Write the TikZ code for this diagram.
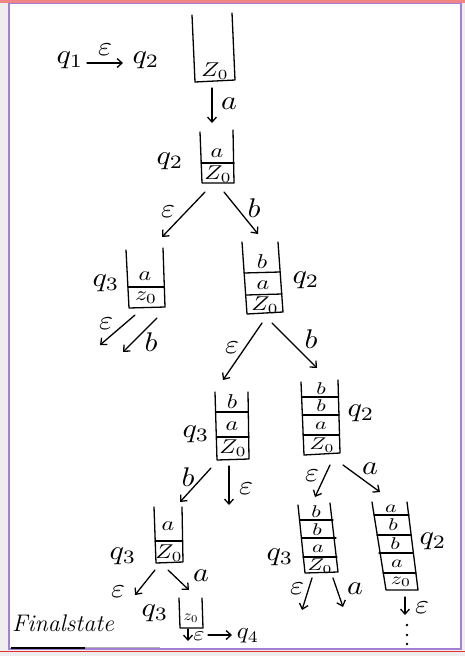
\documentclass[tikz,border=0pt]{standalone}
\usetikzlibrary{arrows.meta}
\definecolor{pagegray}{HTML}{EEEEEE}
\definecolor{framepurple}{HTML}{A57FD6}
\definecolor{topband}{HTML}{F08585}
\definecolor{bottomred}{HTML}{E03030}
\newcommand{\hwl}[1]{\scalebox{3.0}[2.7]{$#1$}}
\newcommand{\hwc}[1]{\scalebox{2.4}[2.0]{$#1$}}
\newcommand{\hwd}[1]{\scalebox{2.2}[1.7]{$#1$}}
\newcommand{\hwm}[1]{\scalebox{2.5}[2.3]{$#1$}}
\newcommand{\hws}[1]{\scalebox{1.6}[1.5]{$#1$}}
\tikzset{
  wall/.style={line width=1.3pt, line cap=round, line join=round},
  arr/.style={wall, -{Straight Barb[length=5pt,width=9pt]}},
  lab/.style={inner sep=0pt},
  cell/.style={inner sep=0pt},
  small/.style={inner sep=0pt},
  dotmark/.style={fill=black, circle, inner sep=0pt, minimum size=2.6pt}
}
\begin{document}
\begin{tikzpicture}[x=1pt,y=-1pt]
\useasboundingbox (0,0) rectangle (465,656);
% page frame
\fill[pagegray] (0,0) rectangle (465,656);
\fill[white] (9,3) rectangle (461,649);
\draw[framepurple, line width=1.5pt] (9,3) rectangle (461,649);
\fill[topband] (0,0) rectangle (465,3);
\draw[bottomred, line width=1.4pt] (0,651.5) -- (465,651.5);
\draw[line width=2pt] (11,647.5) -- (85,647.5);
\draw[gray!60, line width=1pt] (85,647.5) -- (160,647.5);

% ---- top line: q1 -eps-> q2
\node[lab] (q1) at (70,60) {\hwl{q_1}};
\node[lab] (q2a) at (146,60) {\hwl{q_2}};
\node[lab] (e0) at (105,50) {\hwl{\varepsilon}};
\coordinate (q1r) at (87,63);
\coordinate (q2l) at (123,63);
\draw[arr] (q1r) -- (q2l);

% ---- stack 1
\draw[wall] (192,15) -- (195,82) -- (235,80) -- (232,13);
\node[cell] (s1z) at (215,71) {\hwc{Z_0}};
\coordinate (s1o) at (212,88);
\coordinate (s2i) at (212,123);
\draw[arr] (s1o) -- (s2i);
\node[lab] (la1) at (229,104) {\hwl{a}};

% ---- stack 2
\draw[wall] (200,132) -- (202,183) -- (234,183) -- (233,130);
\draw[wall] (201,163) -- (234,163);
\node[cell] (s2a) at (217,153) {\hwc{a}};
\node[cell] (s2z) at (218,174) {\hwc{Z_0}};
\node[lab] (q2b) at (170,161) {\hwl{q_2}};
\coordinate (s2oe) at (205,192);
\coordinate (s2ob) at (224,192);
\coordinate (s3i) at (162,237);
\coordinate (s4i) at (258,234);
\draw[arr] (s2oe) -- (s3i);
\draw[arr] (s2ob) -- (s4i);
\node[lab] (le2) at (168,212) {\hwl{\varepsilon}};
\node[lab] (lb2) at (254,208) {\hwl{b}};

% ---- stack 3
\draw[wall] (126,250) -- (129,308) -- (165,307) -- (163,248);
\draw[wall] (128,287) -- (164,287);
\node[cell] (s3a) at (145,276) {\hwc{a}};
\node[cell] (s3z) at (146,298) {\hwc{z_0}};
\node[lab] (q3a) at (106,283) {\hwl{q_3}};
\coordinate (s3oe) at (135,315);
\coordinate (s3ob) at (157,318);
\coordinate (s3xe) at (100,345);
\coordinate (s3xb) at (123,352);
\draw[arr] (s3oe) -- (s3xe);
\draw[arr] (s3ob) -- (s3xb);
\node[lab] (le3) at (106,324) {\hwl{\varepsilon}};
\node[lab] (lb3) at (151,342) {\hwl{b}};

% ---- stack 4
\draw[wall] (242,242) -- (247,314) -- (283,312) -- (278,242);
\draw[wall] (244,273) -- (280,272);
\draw[wall] (246,295) -- (282,294);
\node[cell] (s4b) at (262,262) {\hwc{b}};
\node[cell] (s4a) at (263,285) {\hwc{a}};
\node[cell] (s4z) at (265,305) {\hwc{Z_0}};
\node[lab] (q2c) at (306,280) {\hwl{q_2}};
\coordinate (s4oe) at (262,323);
\coordinate (s4ob) at (272,323);
\coordinate (s5i) at (223,380);
\coordinate (s6i) at (317,368);
\draw[arr] (s4oe) -- (s5i);
\draw[arr] (s4ob) -- (s6i);
\node[lab] (le4) at (232,348) {\hwl{\varepsilon}};
\node[lab] (lb4) at (311,339) {\hwl{b}};

% ---- stack 5
\draw[wall] (215,392) -- (217,460) -- (249,459) -- (248,392);
\draw[wall] (216,412) -- (248,412);
\draw[wall] (217,437) -- (249,437);
\node[cell] (s5b) at (232,402) {\hwc{b}};
\node[cell] (s5a) at (232,426) {\hwc{a}};
\node[cell] (s5z) at (233,448) {\hwc{Z_0}};
\node[lab] (q3b) at (196,434) {\hwl{q_3}};
\coordinate (s5ob) at (211,468);
\coordinate (s5oe) at (229,466);
\coordinate (s7i) at (180,502);
\coordinate (s5xe) at (229,505);
\draw[arr] (s5ob) -- (s7i);
\draw[arr] (s5oe) -- (s5xe);
\node[lab] (lb5) at (188,477) {\hwl{b}};
\node[lab] (le5) at (246,489) {\hwl{\varepsilon}};

% ---- stack 6
\draw[wall] (301,382) -- (304,455) -- (340,453) -- (338,380);
\draw[wall] (302,397) -- (338,397);
\draw[wall] (303,415) -- (339,415);
\draw[wall] (303,435) -- (339,435);
\node[cell] (s6b1) at (321,389) {\hwd{b}};
\node[cell] (s6b2) at (321,406) {\hwd{b}};
\node[cell] (s6a) at (321,426) {\hwd{a}};
\node[cell] (s6z) at (322,445) {\hwd{Z_0}};
\node[lab] (q2d) at (361,413) {\hwl{q_2}};
\coordinate (s6oe) at (330,465);
\coordinate (s6oa) at (343,465);
\coordinate (s9i) at (315,497);
\coordinate (s10i) at (380,492);
\draw[arr] (s6oe) -- (s9i);
\draw[arr] (s6oa) -- (s10i);
\node[lab] (le6) at (312,476) {\hwl{\varepsilon}};
\node[lab] (la6) at (370,469) {\hwl{a}};

% ---- stack 7
\draw[wall] (154,507) -- (156,563) -- (183,562) -- (182,507);
\draw[wall] (155,541) -- (182,541);
\node[cell] (s7a) at (168,526) {\hwc{a}};
\node[cell] (s7z) at (169,553) {\hwc{Z_0}};
\node[lab] (q3c) at (123,556) {\hwl{q_3}};
\coordinate (s7oe) at (155,570);
\coordinate (s7oa) at (168,570);
\coordinate (s7xe) at (135,595);
\coordinate (s8i) at (189,590);
\draw[arr] (s7oe) -- (s7xe);
\draw[arr] (s7oa) -- (s8i);
\node[lab] (le7) at (118,592) {\hwl{\varepsilon}};
\node[lab] (la7) at (201,576) {\hwl{a}};

% ---- stack 8 (final)
\draw[wall] (179,598) -- (180,628) -- (203,628) -- (202,598);
\node[small] (s8z) at (191,618) {\hws{z_0}};
\node[lab] (q3d) at (155,613) {\hwl{q_3}};
\coordinate (s8o) at (188,629);
\coordinate (s8x) at (188,641);
\draw[arr] (s8o) -- (s8x);
\node[cell] (le8) at (199,636) {\hwc{\varepsilon}};
\node[lab] (q4) at (248,636) {\hwm{q_4}};
\coordinate (e8r) at (208,635);
\coordinate (q4l) at (232,635);
\draw[arr] (e8r) -- (q4l);
\node[lab, font=\fontsize{24}{28}\selectfont\itshape] (fin) at (63,623) {Finalstate};

% ---- stack 9
\draw[wall] (298,505) -- (305,573) -- (338,572) -- (330,503);
\draw[wall] (300,520) -- (333,520);
\draw[wall] (302,538) -- (336,538);
\draw[wall] (303,557) -- (337,557);
\node[cell] (s9b1) at (316,512) {\hwd{b}};
\node[cell] (s9b2) at (317,530) {\hwd{b}};
\node[cell] (s9a) at (318,549) {\hwd{a}};
\node[cell] (s9z) at (320,566) {\hwd{Z_0}};
\node[lab] (q3e) at (280,557) {\hwl{q_3}};
\coordinate (s9oe) at (312,578);
\coordinate (s9oa) at (333,578);
\coordinate (s9xe) at (302,610);
\coordinate (s9xa) at (343,607);
\draw[arr] (s9oe) -- (s9xe);
\draw[arr] (s9oa) -- (s9xa);
\node[lab] (le9) at (297,589) {\hwl{\varepsilon}};
\node[lab] (la9) at (355,589) {\hwl{a}};

% ---- stack 10
\draw[wall] (372,502) -- (386,590) -- (418,590) -- (407,502);
\draw[wall] (374,515) -- (409,515);
\draw[wall] (377,535) -- (411,535);
\draw[wall] (379,553) -- (413,553);
\draw[wall] (383,573) -- (416,573);
\node[cell] (s10a1) at (391,509) {\hwd{a}};
\node[cell] (s10b1) at (393,525) {\hwd{b}};
\node[cell] (s10b2) at (395,544) {\hwd{b}};
\node[cell] (s10a2) at (397,564) {\hwd{a}};
\node[cell] (s10z) at (401,582) {\hwd{z_0}};
\node[lab] (q2e) at (433,541) {\hwl{q_2}};
\coordinate (s10o) at (405,597);
\coordinate (s10x) at (405,615);
\draw[arr] (s10o) -- (s10x);
\node[lab] (le10) at (422,608) {\hwl{\varepsilon}};
\node[dotmark] (d1) at (407,625) {};
\node[dotmark] (d2) at (407,635) {};
\node[dotmark] (d3) at (407,644) {};
\end{tikzpicture}
\end{document}
